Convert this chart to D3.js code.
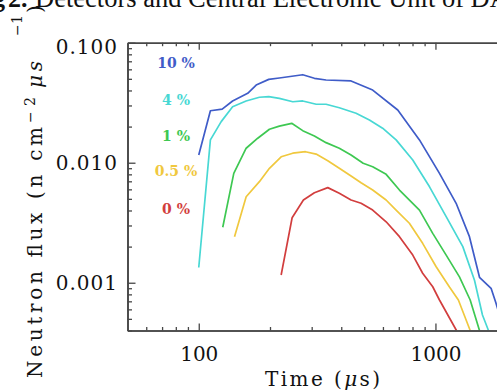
<!DOCTYPE html>
<html><head><meta charset="utf-8">
<script src="https://cdn.jsdelivr.net/npm/d3@7"></script>
<style>html,body{margin:0;padding:0;background:#fff;overflow:hidden}</style>
</head><body><svg id="chart" width="497" height="392"></svg>
<script>
// ---- data ----
const seriesLabels = ["10 %", "4 %", "1 %", "0.5 %", "0 %"];
const seriesColors = ["#3f5cc8", "#48d8d4", "#3ec852", "#f0c83e", "#d23e3e"];

const time10 = [100, 112, 125.6, 139, 161, 174.8, 197.6, 219, 275, 308, 345, 440, 543, 693, 856, 1040, 1223, 1392, 1535, 1718, 1800, 1950];
const flux10 = [0.0116, 0.0271, 0.028, 0.0327, 0.0379, 0.0444, 0.0495, 0.0508, 0.0541, 0.0505, 0.0489, 0.048, 0.0403, 0.0275, 0.0155, 0.00816, 0.00459, 0.00242, 0.00111, 0.000898, 0.00068, 0.0004];

const time4 = [100, 112, 124.4, 139, 158.5, 180.4, 197.6, 219, 249.6, 275, 313.5, 345, 392.5, 462, 526, 598, 682, 802, 944, 1110, 1305, 1462, 1580, 1675];
const flux4 = [0.00134, 0.0155, 0.022, 0.0293, 0.0327, 0.0351, 0.0355, 0.0344, 0.0322, 0.0327, 0.0307, 0.0307, 0.0287, 0.0258, 0.0227, 0.0194, 0.0155, 0.01053, 0.0063, 0.00355, 0.002, 0.00105, 0.000538, 0.0004];

const time1 = [126.3, 140.6, 158.6, 177.5, 198.9, 219, 247, 275, 308, 345, 392.5, 440, 495, 543, 619, 704.6, 856, 974, 1110, 1263, 1402, 1535];
const flux1 = [0.0029, 0.00816, 0.0132, 0.016, 0.019, 0.0202, 0.0213, 0.0185, 0.0167, 0.0147, 0.0132, 0.0116, 0.00989, 0.00926, 0.008, 0.00592, 0.00403, 0.00258, 0.0017, 0.00112, 0.000718, 0.0004];

const time05 = [141.6, 158.6, 180.4, 198.9, 222.9, 249.5, 282.4, 313.3, 350.8, 392.5, 440, 485, 543, 619, 682, 776, 883, 1007, 1146, 1250, 1402];
const flux05 = [0.00242, 0.00521, 0.00695, 0.00898, 0.0112, 0.012, 0.01235, 0.0118, 0.0104, 0.00898, 0.00774, 0.00681, 0.00592, 0.00489, 0.00403, 0.00313, 0.00213, 0.00136, 0.00092, 0.000718, 0.0004];

const time0 = [222.9, 248, 276.8, 308, 350.8, 392.5, 440, 485, 543, 619, 704.6, 802, 883, 974, 1040, 1227];
const flux0 = [0.00116, 0.00348, 0.00489, 0.00562, 0.0062, 0.00556, 0.00489, 0.00459, 0.00403, 0.00322, 0.00242, 0.0017, 0.0012, 0.000926, 0.000718, 0.0004];

const xDomain = [50, 2000];
const yDomain = [0.0004, 0.1];
const xMajorTicks = [100, 1000];
const xMajorLabels = ["100", "1000"];
const xMinorTicks = [60, 70, 80, 90, 200, 300, 400, 500, 600, 700, 800, 900, 2000];
const yMajorTicks = [0.001, 0.01, 0.1];
const yMajorLabels = ["0.001", "0.010", "0.100"];
const yMinorTicks = [0.0004, 0.0005, 0.0006, 0.0007, 0.0008, 0.0009,
  0.002, 0.003, 0.004, 0.005, 0.006, 0.007, 0.008, 0.009,
  0.02, 0.03, 0.04, 0.05, 0.06, 0.07, 0.08, 0.09];

const titleFig = "Fig";
const titleNum = "2.";
const titleRest = "Detectors and Central Electronic Unit of DAN";
const xTitle = ["Time (", "μ", "s)"];

// ---- layout ----
const svg = d3.select("#chart");
const L = 127.5, R = 506.7, T = 42.7, B = 330.5;
const x = d3.scaleLog().domain(xDomain).range([L, R]);
const y = d3.scaleLog().domain(yDomain).range([B, T]);
const axisColor = "#474747";
const serif = "'DejaVu Serif', serif";
const times = "'Liberation Serif', serif";

// top caption (cropped in the source)
svg.append("text").attr("x", 5).attr("y", 7).attr("text-anchor", "end")
  .attr("font-family", times).attr("font-weight", "bold")
  .attr("font-size", 26).attr("fill", "#111").text(titleFig);
svg.append("text").attr("x", 8).attr("y", 7)
  .attr("font-family", times).attr("font-weight", "bold")
  .attr("font-size", 26).attr("fill", "#111").text(titleNum);
svg.append("text").attr("x", 35).attr("y", 7)
  .attr("font-family", times)
  .attr("font-size", 26.5).attr("fill", "#111").text(titleRest);

// clip
svg.append("defs").append("clipPath").attr("id", "plotclip")
  .append("rect").attr("x", L).attr("y", T).attr("width", R - L).attr("height", B - T);

// series
const series = [
  {t: time10, f: flux10}, {t: time4, f: flux4}, {t: time1, f: flux1},
  {t: time05, f: flux05}, {t: time0, f: flux0}
];
const line = d3.line().x(d => x(d[0])).y(d => y(d[1]));
const gLines = svg.append("g").attr("clip-path", "url(#plotclip)");
series.forEach((s, i) => {
  gLines.append("path").datum(s.t.map((t, j) => [t, s.f[j]]))
    .attr("d", line).attr("fill", "none")
    .attr("stroke", seriesColors[i]).attr("stroke-width", 1.7)
    .attr("stroke-linejoin", "round");
});

// legend labels
const legendY = [68, 105, 141, 176, 214];
seriesLabels.forEach((lab, i) => {
  svg.append("text").attr("x", 176).attr("y", legendY[i]).attr("text-anchor", "middle")
    .attr("font-family", serif).attr("font-weight", "bold").attr("font-size", 14)
    .attr("fill", seriesColors[i]).text(lab);
});

function styleAxis(g) {
  g.selectAll("path.domain").attr("stroke", axisColor).attr("stroke-width", 1.6);
  g.selectAll(".tick line").attr("stroke", axisColor).attr("stroke-width", 1.3);
}

// bottom axis
const gxMin = svg.append("g").attr("transform", `translate(0,${B})`)
  .call(d3.axisBottom(x).tickValues(xMinorTicks).tickFormat("").tickSizeInner(-3.5).tickSizeOuter(0));
styleAxis(gxMin);
const gx = svg.append("g").attr("transform", `translate(0,${B})`)
  .call(d3.axisBottom(x).tickValues(xMajorTicks).tickFormat((d, i) => xMajorLabels[i])
    .tickSizeInner(-7).tickSizeOuter(0).tickPadding(16));
styleAxis(gx);
gx.selectAll("text").attr("font-family", serif).attr("font-size", 20).attr("fill", "#111");

// top axis
const gtMin = svg.append("g").attr("transform", `translate(0,${T})`)
  .call(d3.axisTop(x).tickValues(xMinorTicks).tickFormat("").tickSizeInner(-3.5).tickSizeOuter(0));
styleAxis(gtMin);
const gt = svg.append("g").attr("transform", `translate(0,${T})`)
  .call(d3.axisTop(x).tickValues(xMajorTicks).tickFormat("").tickSizeInner(-7).tickSizeOuter(0));
styleAxis(gt);

// left axis
const gyMin = svg.append("g").attr("transform", `translate(${L},0)`)
  .call(d3.axisLeft(y).tickValues(yMinorTicks).tickFormat("").tickSizeInner(-4.5).tickSizeOuter(0));
styleAxis(gyMin);
const gy = svg.append("g").attr("transform", `translate(${L},0)`)
  .call(d3.axisLeft(y).tickValues(yMajorTicks).tickFormat((d, i) => yMajorLabels[i])
    .tickSizeInner(-8).tickSizeOuter(0).tickPadding(9.5));
styleAxis(gy);
gy.selectAll("text").attr("font-family", serif).attr("font-size", 20).attr("fill", "#111")
  .attr("letter-spacing", 1)
  .attr("dy", d => d === yDomain[1] ? "0.55em" : "0.36em");

// x title
const xt = svg.append("text").attr("x", 265).attr("y", 386)
  .attr("textLength", 115).attr("lengthAdjust", "spacing")
  .attr("font-family", serif).attr("font-size", 20).attr("fill", "#111");
xt.append("tspan").text(xTitle[0]);
xt.append("tspan").attr("font-style", "italic").text(xTitle[1]);
xt.append("tspan").text(xTitle[2]);

// y title, built from pieces placed along the rotated baseline
const yParts = [
  {text: "Neutron flux (n cm", start: 378, len: 251, base: 42, size: 20, italic: false},
  {text: "−2", start: 123, len: 26, base: 35, size: 14, italic: false},
  {text: "μs", start: 88, len: 27, base: 42, size: 20, italic: true},
  {text: "−1", start: 36, len: 21, base: 22, size: 14, italic: false},
  {text: ")", start: 13, len: 8, base: 42, size: 20, italic: false}
];
yParts.forEach(p => {
  svg.append("text").attr("transform", `translate(${p.base},${p.start}) rotate(-90)`)
    .attr("textLength", p.len).attr("lengthAdjust", "spacing")
    .attr("font-family", serif).attr("font-size", p.size)
    .attr("font-style", p.italic ? "italic" : "normal")
    .attr("fill", "#111").text(p.text);
});
</script></body></html>
